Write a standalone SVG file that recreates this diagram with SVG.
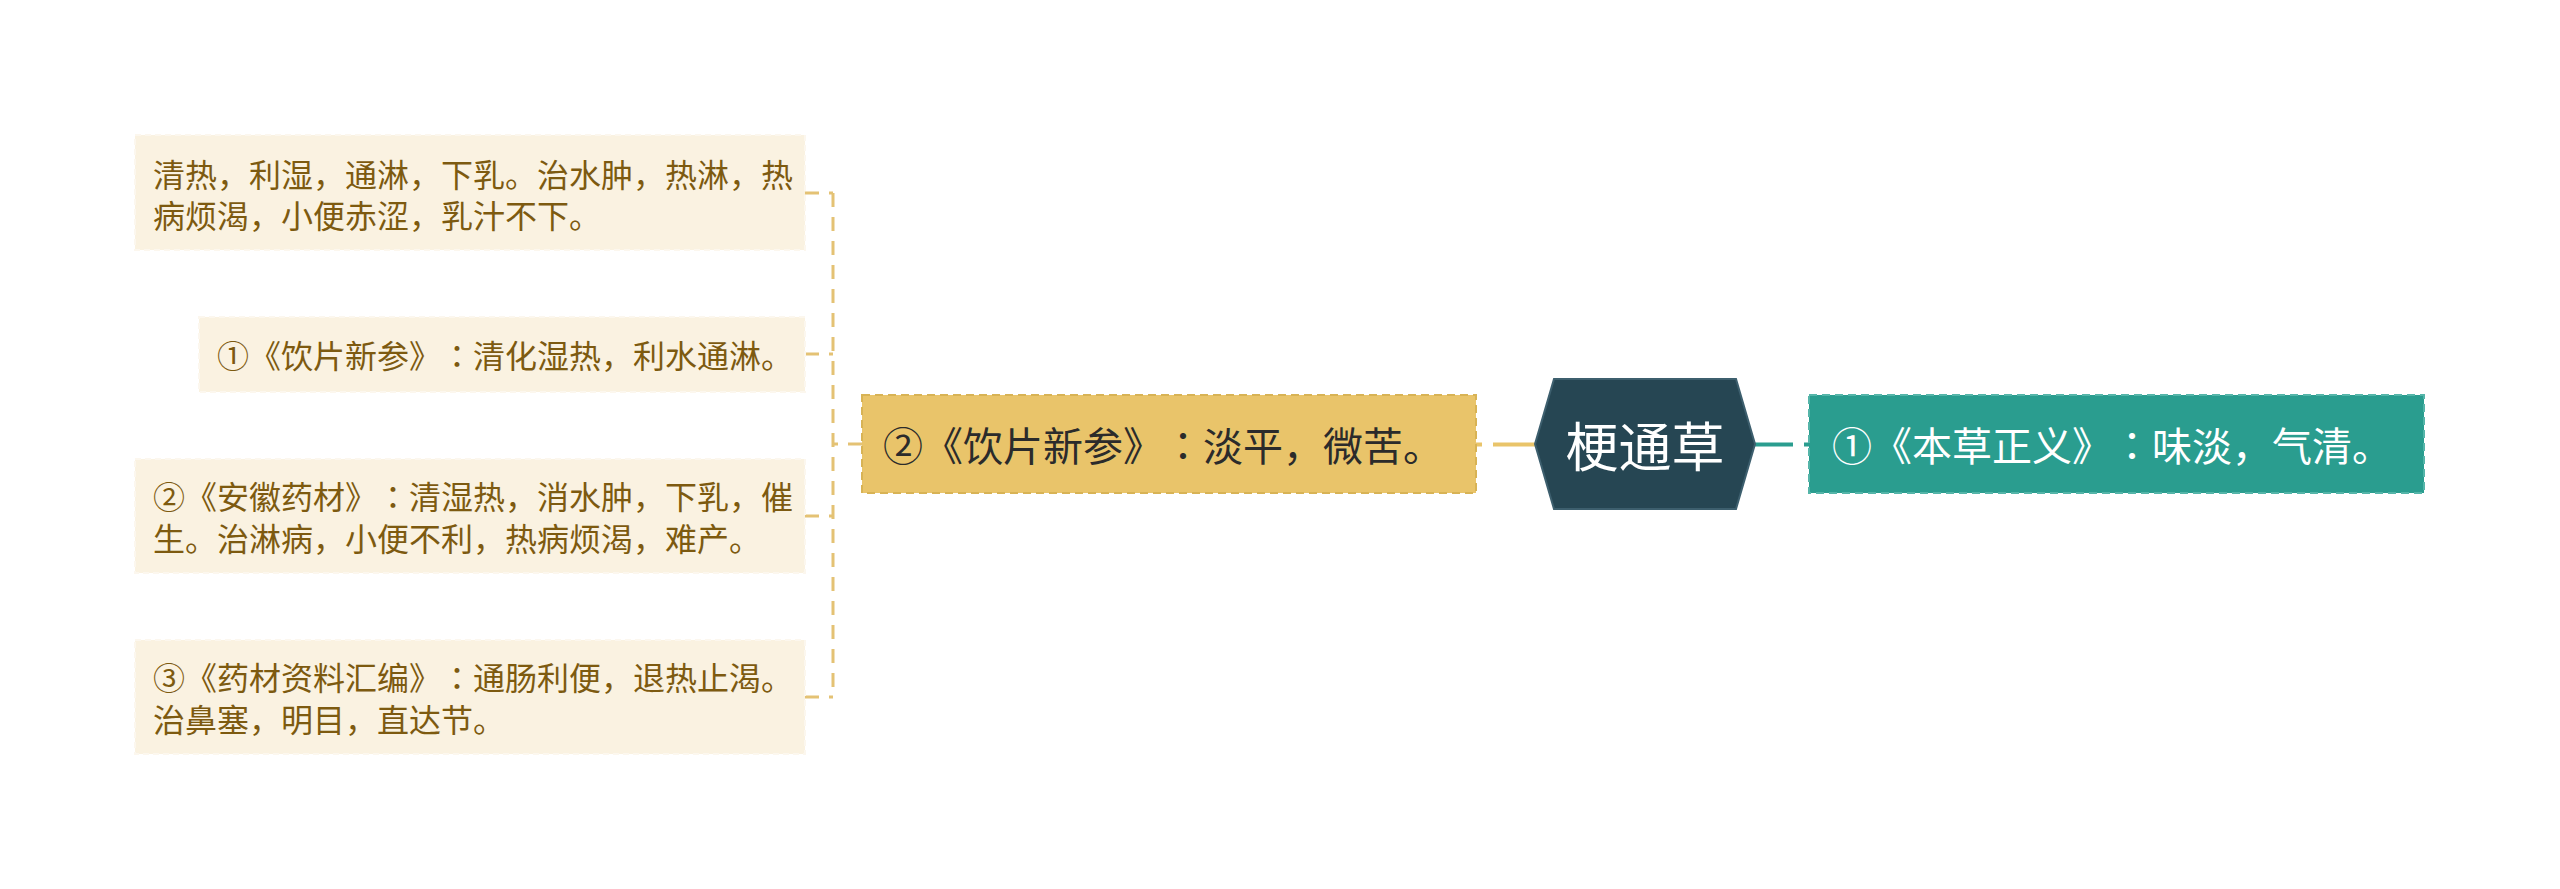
<svg xmlns="http://www.w3.org/2000/svg" width="2560" height="889" viewBox="0 0 2560 889">
<style>
text{text-spacing-trim:space-all}
.cjk{font-family:"Noto Sans CJK SC","Noto Sans",sans-serif}
.col{font-family:"Noto Sans CJK JP","Noto Sans CJK SC",sans-serif}
.leaf rect{fill:#FAF2E1;stroke:#FCF7EE;stroke-width:2;stroke-dasharray:6 4}
.leaf text{fill:#7D5A10;font-size:32px}
.conn{fill:none;stroke:#E4C274;stroke-width:3;stroke-dasharray:14 10}
</style>
<rect width="2560" height="889" fill="#FFFFFF"/>
<g id="connectors">
<path class="conn" d="M862 444 H833 M833 193 V697 M805 193 H833 M805 354 H833 M805 516 H833 M805 697 H833"/>
<path d="M1476 444.5 H1482 M1493 444.5 H1536" stroke="#E9C46A" stroke-width="4" fill="none"/>
<path d="M1750 444.5 H1793 M1804 444.5 H1810" stroke="#2A9D8F" stroke-width="4" fill="none"/>
</g>
<g id="root">
<polygon points="1535,444 1554,379 1736,379 1755,444 1736,509 1554,509" fill="#264653" stroke="#3D5F6E" stroke-width="2"/>
<text class="cjk" x="1645" y="444" font-size="53" fill="#FFFFFF" text-anchor="middle" dominant-baseline="central">梗通草</text>
</g>
<g id="node-right">
<rect x="1809" y="395" width="615" height="98" fill="#2A9D8F" stroke="#55B5A9" stroke-width="2" stroke-dasharray="8 5"/>
<text class="cjk" x="1832" y="444" font-size="40" fill="#FFFFFF" dominant-baseline="central">①《本草正义》<tspan class="col">：</tspan>味淡，气清。</text>
</g>
<g id="node-left">
<rect x="862" y="395" width="614" height="98" fill="#E9C46A" stroke="#D8B355" stroke-width="2" stroke-dasharray="8 5"/>
<text class="cjk" x="883" y="444" font-size="40" fill="#2B2B2B" dominant-baseline="central">②《饮片新参》<tspan class="col">：</tspan>淡平，微苦。</text>
</g>
<g id="leaf1" class="leaf">
<rect x="135" y="135" width="670" height="115"/>
<text class="cjk" x="153" y="173" dominant-baseline="central">清热，利湿，通淋，下乳。治水肿，热淋，热</text>
<text class="cjk" x="153" y="214" dominant-baseline="central">病烦渴，小便赤涩，乳汁不下。</text>
</g>
<g id="leaf2" class="leaf">
<rect x="199" y="317" width="606" height="75"/>
<text class="cjk" x="217" y="354" dominant-baseline="central">①《饮片新参》<tspan class="col">：</tspan>清化湿热，利水通淋。</text>
</g>
<g id="leaf3" class="leaf">
<rect x="135" y="459" width="670" height="114"/>
<text class="cjk" x="153" y="495" dominant-baseline="central">②《安徽药材》<tspan class="col">：</tspan>清湿热，消水肿，下乳，催</text>
<text class="cjk" x="153" y="537" dominant-baseline="central">生。治淋病，小便不利，热病烦渴，难产。</text>
</g>
<g id="leaf4" class="leaf">
<rect x="135" y="640" width="670" height="114"/>
<text class="cjk" x="153" y="676" dominant-baseline="central">③《药材资料汇编》<tspan class="col">：</tspan>通肠利便，退热止渴。</text>
<text class="cjk" x="153" y="718" dominant-baseline="central">治鼻塞，明目，直达节。</text>
</g>
</svg>
